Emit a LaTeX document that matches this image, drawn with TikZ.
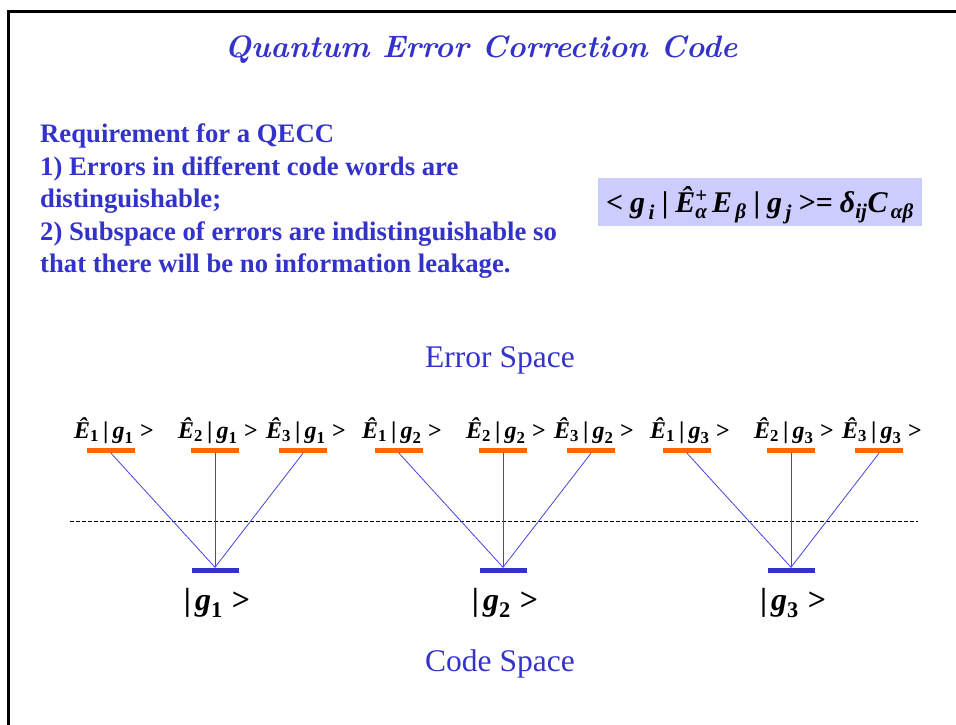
\documentclass[tikz,border=0pt]{standalone}
\usepackage{amsmath}
\usepackage{fontspec}
\newfontfamily\tnr{Liberation Serif}
\definecolor{tblue}{HTML}{3333CC}
\definecolor{lblue}{HTML}{4444DD}
\definecolor{orng}{HTML}{FF6600}
\definecolor{lav}{HTML}{CCCCFF}
\newcommand\bt[1]{\text{\tnr\bfseries\itshape #1}}
\newcommand\bu[1]{\text{\tnr\bfseries #1}}
\newcommand\ru[1]{\text{\tnr #1}}
\newcommand\EG[2]{$\bt{Ê}_{\ru{#1}}\,\bu{|}\,\bt{g}_{\ru{#2}}$\;\textbf{>}}
\newcommand\GG[1]{$\bu{|}\,\bt{g}_{\ru{#1}}$\;\textbf{>}}
\begin{document}
\begin{tikzpicture}[x=1pt,y=-1pt,
  ebar/.style={fill=orng,inner sep=0pt,minimum width=48pt,minimum height=5pt},
  cbar/.style={fill=tblue,inner sep=0pt,minimum width=47pt,minimum height=5pt},
  elab/.style={anchor=base,inner sep=0pt,font=\tnr\bfseries\fontsize{24}{24}\selectfont},
  clab/.style={anchor=base,inner sep=0pt,font=\tnr\bfseries\fontsize{32}{32}\selectfont},
  req/.style={anchor=base west,inner sep=0pt,text=tblue,font=\tnr\bfseries\fontsize{26.7}{26.7}\selectfont},
  space/.style={anchor=base,inner sep=0pt,text=tblue,font=\tnr\fontsize{31.5}{31.5}\selectfont},
  conn/.style={draw=lblue,line width=0.8pt}]
\useasboundingbox (0,0) rectangle (956,724);
\draw[line width=3pt] (960,11) -- (8,11) -- (8,730);
% title
\node[anchor=base,inner sep=0pt,text=tblue,font=\bfseries\itshape\fontsize{31}{31}\selectfont] (title) at (481,57) {Quantum Error Correction Code};
% requirement text
\node[req] (r1) at (40,142) {Requirement for a QECC};
\node[req] (r2) at (40,175) {1) Errors in different code words are};
\node[req] (r3) at (40,207) {distinguishable;};
\node[req] (r4) at (40,240) {2) Subspace of errors are indistinguishable so};
\node[req] (r5) at (40,272) {that there will be no information leakage.};
% formula
\node[fill=lav,minimum width=324pt,minimum height=48pt,inner sep=0pt] (fbox) at (760,202) {};
\node[anchor=base,inner sep=0pt,font=\tnr\bfseries\fontsize{30}{30}\selectfont] (formula) at (760,212)
  {$\bu{<}\;\bt{g}_{\,\bt{i}}\;\bu{|}\;\smash{\bt{Ê}}^{\bu{+}}_{\bt{α}}\,\bt{E}_{\,\bt{β}}\;\bu{|}\;\bt{g}_{\,\bt{j}}\;\bu{>=}\;\bt{δ}_{\bt{ij}}\bt{C}_{\,\bt{αβ}}$};
% spaces
\node[space] (es) at (500,367) {Error Space};
\node[space] (cs) at (500,671) {Code Space};
% dashed line
\coordinate (dl) at (70,521);
\coordinate (dr) at (918,521);
\draw[dashed,dash pattern=on 4pt off 2pt,line width=0.6pt] (dl) -- (dr);
% bars
\foreach \g/\cx in {1/215,2/503,3/791}{
  \node[cbar] (c\g) at (\cx,570) {};
  \node[clab] (cl\g) at (\cx+2,610) {\GG{\g}};
  \foreach \e/\dx in {1/-104,2/0,3/88}{
    \node[ebar] (e\e\g) at (\cx+\dx,450.5) {};
    \draw[conn] (e\e\g.south) -- (c\g.north);
    \node[elab] (el\e\g) at (\cx+\dx+3,438) {\EG{\e}{\g}};
  }
}
\end{tikzpicture}
\end{document}
